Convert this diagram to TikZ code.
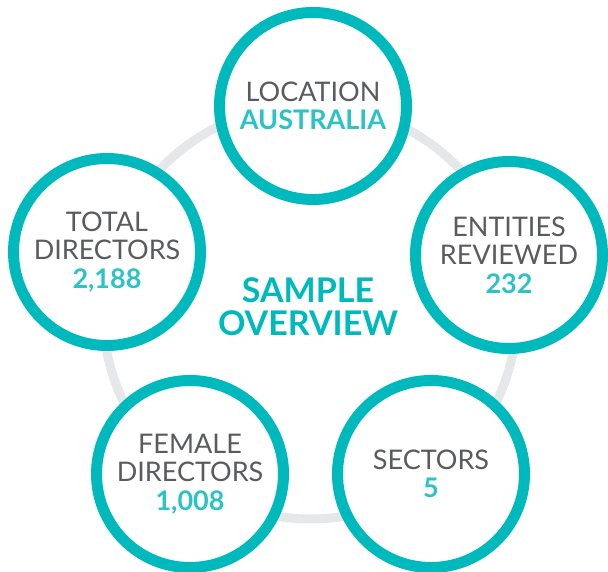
\documentclass[tikz,border=0pt]{standalone}
\usepackage{fontspec}
\setmainfont{Lato}
\usepackage{tikz}
\usetikzlibrary{positioning}
\definecolor{teal}{HTML}{00B9BC}
\definecolor{tealtext}{HTML}{2CC3C7}
\definecolor{inkgray}{HTML}{5A5B5D}
\definecolor{ringgray}{HTML}{E6E7E8}
\tikzset{
  statcircle/.style={circle,draw=teal,fill=white,line width=11pt,
                     minimum size=187pt,inner sep=0pt,align=center,
                     font=\fontsize{27}{28.5}\selectfont,text=inkgray},
  centretitle/.style={align=center,font=\fontsize{34}{33}\selectfont\bfseries,
                      text=teal}
}
\newcommand{\statval}[1]{\textcolor{tealtext}{\bfseries #1}}

\begin{document}
\begin{tikzpicture}[x=1pt,y=1pt]
  \useasboundingbox (0,0) rectangle (608,572);
  % grey ring through the centres
  \coordinate (hub) at (310,260);
  \draw[ringgray,line width=9pt] (hub) circle (207);

  \node[statcircle] (location) at (313,466) {LOCATION\\\statval{AUSTRALIA}};
  \node[statcircle] (entities) at (509,317) {ENTITIES\\REVIEWED\\\statval{232}};
  \node[statcircle] (sectors)  at (431,98)  {SECTORS\\\statval{5}};
  \node[statcircle] (female)   at (190,98)  {FEMALE\\DIRECTORS\\\statval{1,008}};
  \node[statcircle] (total)    at (107,320) {TOTAL\\DIRECTORS\\\statval{2,188}};

  \node[centretitle] (title) at (308,265) {SAMPLE\\OVERVIEW};
\end{tikzpicture}
\end{document}
